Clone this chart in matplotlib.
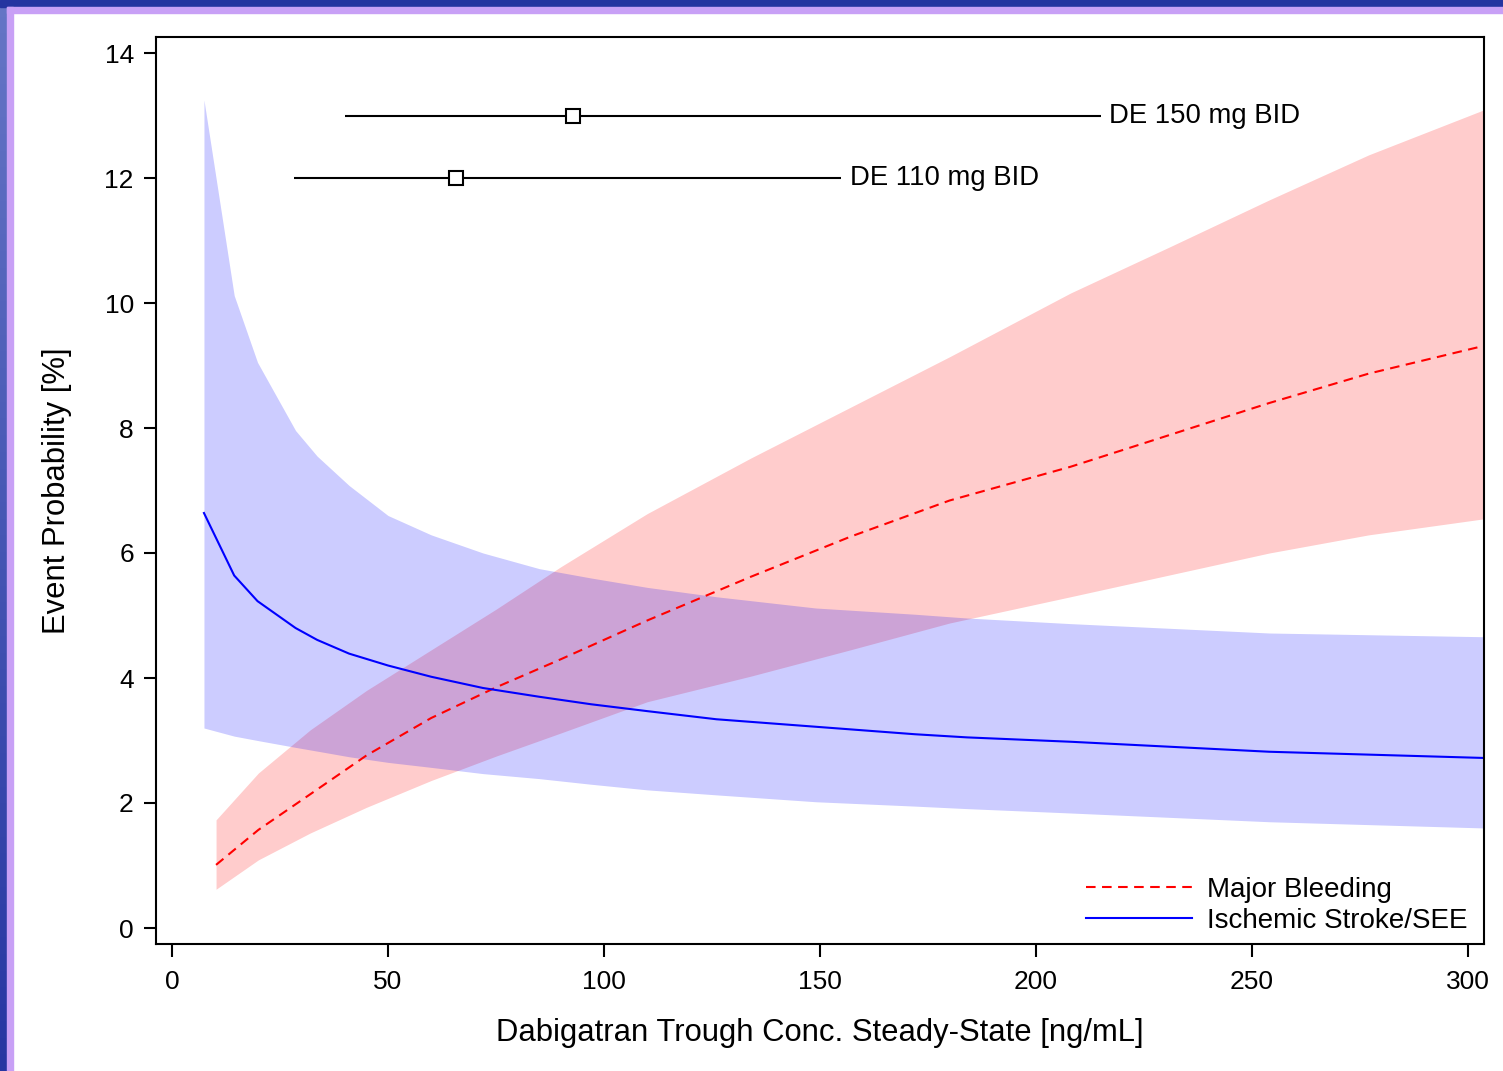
import numpy as np
import matplotlib

matplotlib.use("Agg")
import matplotlib.pyplot as plt
from matplotlib.patches import Rectangle

# Ischemic stroke / SEE curve (blue)
stroke_x = [7.4, 14.4, 19.8, 28.6, 33.6, 41, 50, 60, 72, 85, 97, 110, 126,
            149, 172, 184, 208, 254, 304]
stroke_mean = [6.64, 5.64, 5.23, 4.80, 4.61, 4.39, 4.20, 4.02, 3.84, 3.70,
               3.58, 3.47, 3.34, 3.22, 3.10, 3.05, 2.98, 2.82, 2.72]
stroke_upper = [13.25, 10.12, 9.05, 7.96, 7.55, 7.08, 6.60, 6.29, 6.00, 5.75,
                5.60, 5.45, 5.30, 5.12, 5.02, 4.96, 4.87, 4.72, 4.66]
stroke_lower = [3.20, 3.07, 3.00, 2.89, 2.83, 2.74, 2.65, 2.57, 2.47, 2.39,
                2.30, 2.21, 2.13, 2.02, 1.95, 1.91, 1.84, 1.70, 1.60]

# Major bleeding curve (red)
bleed_x = [10.2, 20, 32, 45, 60, 75, 90, 110, 134, 157, 180, 208, 231, 254,
           277, 304]
bleed_mean = [1.01, 1.57, 2.14, 2.76, 3.36, 3.85, 4.30, 4.92, 5.62, 6.26,
              6.84, 7.38, 7.89, 8.40, 8.87, 9.32]
bleed_upper = [1.73, 2.48, 3.17, 3.80, 4.45, 5.10, 5.78, 6.63, 7.52, 8.33,
               9.14, 10.16, 10.90, 11.65, 12.37, 13.10]
bleed_lower = [0.62, 1.09, 1.52, 1.93, 2.36, 2.75, 3.12, 3.62, 4.03, 4.45,
               4.88, 5.30, 5.65, 6.00, 6.29, 6.55]

# trough concentration ranges per dose (low, median, high)
dose_labels = ["DE 150 mg BID", "DE 110 mg BID"]
dose_y = [13.0, 12.0]
dose_low = [40.0, 28.2]
dose_median = [92.8, 65.7]
dose_high = [215.0, 154.9]

plt.rcParams["font.family"] = ["Liberation Sans", "DejaVu Sans"]

W, H = 1503, 1071
fig = plt.figure(figsize=(W / 100, H / 100), dpi=100)

# slide frame: dark blue strip with a lilac inner line (top and left)
grad = np.linspace(0, 1, 256).reshape(-1, 1)
strip = fig.add_axes([0, 0, 7 / W, 1])
strip.imshow(grad, aspect="auto", extent=[0, 1, 0, 1],
             cmap=matplotlib.colors.LinearSegmentedColormap.from_list(
                 "frame", ["#6676c6", "#2636a2"]))
strip.set_axis_off()
fig.patches.append(Rectangle((0, 1 - 7 / H), 1, 7 / H, color="#2434a0",
                             transform=fig.transFigure, zorder=5))
fig.patches.append(Rectangle((7 / W, 1 - 13 / H), 1, 6 / H, color="#c8a0f6",
                             transform=fig.transFigure, zorder=5))
fig.patches.append(Rectangle((7 / W, 0), 6 / W, 1 - 7 / H, color="#c8a0f6",
                             transform=fig.transFigure, zorder=5))

ax = fig.add_axes([156 / W, 1 - 944 / H, (1484 - 156) / W, (944 - 37) / H])

ax.fill_between(bleed_x, bleed_lower, bleed_upper, color="red", alpha=0.2,
                lw=0)
ax.fill_between(stroke_x, stroke_lower, stroke_upper, color="blue", alpha=0.2,
                lw=0)
ax.plot(bleed_x, bleed_mean, color="red", lw=1.5, dashes=(4.6, 3.1),
        label="Major Bleeding")
ax.plot(stroke_x, stroke_mean, color="blue", lw=1.5,
        label="Ischemic Stroke/SEE")

for lab, y, lo, med, hi in zip(dose_labels, dose_y, dose_low, dose_median,
                               dose_high):
    ax.hlines(y, lo, hi, color="black", lw=1.5)
    ax.plot([med], [y], marker="s", ms=10, mfc="white", mec="black", mew=1.5)
    ax.annotate(lab, (hi, y), xytext=(6, 0), textcoords="offset points",
                va="center", ha="left", fontsize=19.8)

ax.set_xlim(-3.7, 303.7)
ax.set_ylim(-0.256, 14.256)
ax.set_xticks([0, 50, 100, 150, 200, 250, 300])
ax.set_yticks([0, 2, 4, 6, 8, 10, 12, 14])
ax.tick_params(labelsize=19, length=9, width=1.5, pad=7)
ax.tick_params(axis="x", pad=10)
for s in ax.spines.values():
    s.set_linewidth(1.5)

ax.set_xlabel("Dabigatran Trough Conc. Steady-State [ng/mL]", fontsize=22.3,
              labelpad=17)
ax.set_ylabel("Event Probability [%]", fontsize=22.3, labelpad=23)

ax.legend(loc="lower right", frameon=False, fontsize=20, handlelength=3.8,
          handletextpad=0.55, labelspacing=0.18, borderaxespad=0.2,
          bbox_to_anchor=(1.0, -0.007))

fig.savefig("out.png", dpi=100)
